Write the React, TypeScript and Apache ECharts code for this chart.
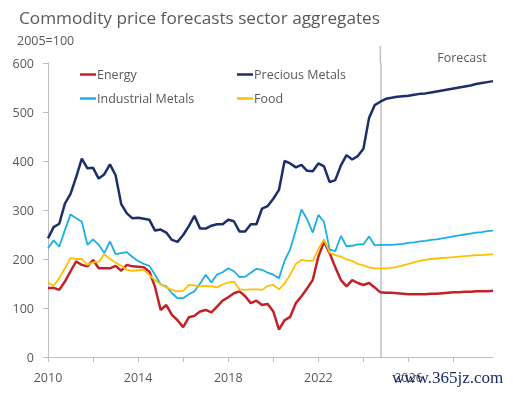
import React, { useEffect, useRef } from 'react';
import * as echarts from 'echarts';

const quarters: string[] = [];
for (let y = 2010; y <= 2029; y++) for (let q = 1; q <= 4; q++) quarters.push(`${y}Q${q}`);
const forecastStart = '2024Q4';

const energy = [
  141, 141, 137, 154, 175, 195, 188, 185, 198, 181,
  181, 181, 186, 176, 188, 185, 184, 183, 174, 143,
  96, 106, 86, 75, 61, 81, 84, 93, 96, 91,
  103, 115, 122, 130, 134, 124, 110, 115, 106, 108,
  93, 56, 75, 82, 110, 124, 140, 157, 205, 235,
  212, 183, 157, 144, 157, 151, 147, 151, 142, 132,
  131, 131, 130, 129, 128, 128, 128, 128, 129, 129,
  130, 131, 132, 132, 133, 133, 134, 134, 134, 135,
];
const precious = [
  242, 265, 272, 313, 333, 367, 405, 385, 386, 364,
  373, 393, 371, 312, 293, 283, 284, 282, 280, 258,
  260, 254, 239, 235, 249, 267, 288, 262, 262, 268,
  271, 271, 280, 277, 256, 256, 271, 271, 303, 308,
  323, 341, 400, 395, 387, 392, 380, 379, 395, 389,
  357, 361, 391, 412, 403, 410, 425, 488, 514, 521,
  527, 529, 531, 532, 533, 535, 537, 538, 540, 542,
  544, 546, 548, 550, 552, 554, 557, 559, 561, 563,
];
const industrial = [
  222, 238, 225, 259, 291, 283, 276, 229, 240, 229,
  212, 236, 210, 212, 214, 204, 196, 190, 186, 168,
  148, 144, 130, 120, 120, 128, 134, 150, 168, 152,
  168, 173, 181, 175, 163, 164, 172, 180, 178, 172,
  168, 161, 196, 220, 259, 301, 281, 254, 290, 276,
  219, 216, 247, 226, 227, 230, 230, 246, 228, 229,
  229, 229, 230, 231, 233, 234, 236, 237, 239, 240,
  242, 244, 246, 248, 250, 252, 254, 255, 257, 258,
];
const food = [
  152, 145, 161, 181, 202, 200, 200, 188, 193, 194,
  210, 200, 193, 186, 178, 176, 177, 178, 167, 157,
  148, 142, 137, 134, 135, 147, 146, 144, 145, 144,
  142, 148, 152, 154, 138, 137, 138, 138, 137, 145,
  147, 138, 150, 168, 190, 198, 196, 196, 220, 240,
  213, 208, 205, 199, 196, 190, 187, 183, 181, 181,
  181, 182, 184, 187, 190, 193, 196, 198, 200, 201,
  202, 203, 204, 205, 206, 207, 208, 208, 209, 210,
];

const seriesNames = ['Energy', 'Precious Metals', 'Industrial Metals', 'Food'];
const seriesColors = ['#C42127', '#1C2F6B', '#1AAFE6', '#FFC000'];
const seriesWidths = [2.5, 2.5, 1.8, 1.8];
const seriesData = [energy, precious, industrial, food];

export default function App() {
  const ref = useRef<HTMLDivElement>(null);
  useEffect(() => {
    document.body.style.margin = '0';
    const chart = echarts.init(ref.current!, null, { renderer: 'svg' });
    const font = 'Open Sans';
    const gray = '#595959';
    const axisGray = '#BFBFBF';
    const legendBase = {
      orient: 'vertical',
      top: 68,
      icon: 'rect',
      itemWidth: 16,
      itemHeight: 2.5,
      itemGap: 11,
      padding: 0,
      textStyle: { color: gray, fontSize: 12.5, fontFamily: font, padding: [0, 0, 0, -4] },
    };
    chart.setOption({
      animation: false,
      textStyle: { fontFamily: font },
      legend: [
        { ...legendBase, data: ['Energy', 'Industrial Metals'], left: 80 },
        { ...legendBase, data: ['Precious Metals', 'Food'], left: 237 },
      ],
      grid: { left: 48, right: 20, top: 63, bottom: 37 },
      xAxis: {
        type: 'category',
        data: quarters,
        boundaryGap: false,
        axisLine: { lineStyle: { color: axisGray, width: 1 } },
        axisTick: {
          interval: (i: number) => i % 8 === 0,
          length: 5,
          lineStyle: { color: axisGray },
        },
        axisLabel: {
          interval: (i: number) => i % 16 === 0,
          formatter: (v: string) => v.slice(0, 4),
          color: gray,
          fontSize: 12.5,
          margin: 14,
          fontFamily: font,
        },
        splitLine: { show: false },
      },
      yAxis: {
        type: 'value',
        min: 0,
        max: 600,
        interval: 100,
        axisLine: { show: true, lineStyle: { color: axisGray, width: 1 } },
        axisTick: { show: true, length: 5, lineStyle: { color: axisGray } },
        axisLabel: { color: gray, fontSize: 12.5, margin: 14, fontFamily: font },
        splitLine: { show: false },
      },
      series: seriesNames.map((name, k) => ({
        name,
        type: 'line',
        data: seriesData[k],
        symbol: 'none',
        color: seriesColors[k],
        itemStyle: { color: seriesColors[k] },
        lineStyle: { color: seriesColors[k], width: seriesWidths[k] },
        z: 3,
        markLine:
          k === 0
            ? {
                silent: true,
                symbol: 'none',
                label: { show: false },
                lineStyle: { color: axisGray, width: 1.5, type: 'solid' },
                data: [{ xAxis: forecastStart }],
                z: 1,
              }
            : undefined,
      })),
    });
    const fi = quarters.indexOf(forecastStart);
    const topPt = chart.convertToPixel({ gridIndex: 0 }, [fi, 600]) as number[];
    chart.setOption({
      graphic: [
        {
          type: 'text',
          x: 19,
          y: 17,
          style: {
            text: 'Commodity price forecasts sector aggregates',
            fill: gray,
            fontSize: 17.2,
            fontFamily: font,
            textAlign: 'left',
            textVerticalAlign: 'middle',
          },
        },
        {
          type: 'text',
          x: 17,
          y: 40,
          style: {
            text: '2005=100',
            fill: gray,
            fontSize: 12.5,
            fontFamily: font,
            textAlign: 'left',
            textVerticalAlign: 'middle',
          },
        },
        {
          type: 'line',
          shape: { x1: topPt[0], y1: 46, x2: topPt[0], y2: topPt[1] },
          style: { stroke: axisGray, lineWidth: 1.5 },
          silent: true,
        },
        {
          type: 'text',
          x: 462,
          y: 57,
          style: {
            text: 'Forecast',
            fill: gray,
            fontSize: 12.5,
            fontFamily: font,
            textAlign: 'center',
            textVerticalAlign: 'middle',
          },
        },
        {
          type: 'text',
          x: 392,
          y: 377,
          z: 100,
          style: {
            text: 'www.365jz.com',
            fill: '#1B2A6B',
            fontSize: 17,
            fontFamily: 'Liberation Serif',
            textAlign: 'left',
            textVerticalAlign: 'middle',
          },
        },
      ],
    });
    return () => chart.dispose();
  }, []);
  return <div ref={ref} style={{ position: 'fixed', left: 0, top: 0, width: 513, height: 394 }} />;
}
